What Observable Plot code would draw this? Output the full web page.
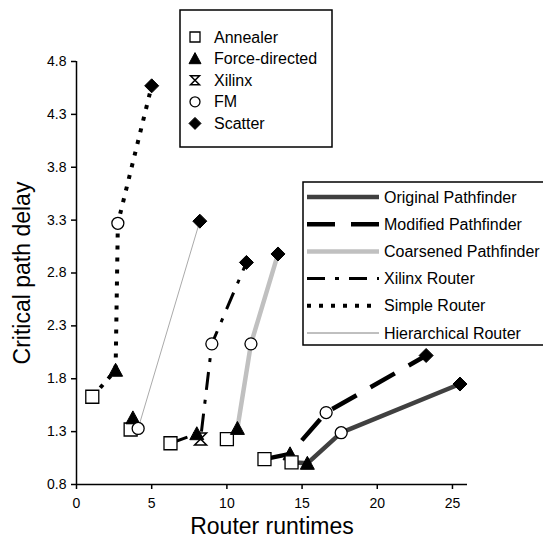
<!DOCTYPE html>
<html><head><meta charset="utf-8">
<script src="https://cdn.jsdelivr.net/npm/d3@7"></script>
<script src="https://cdn.jsdelivr.net/npm/@observablehq/plot@0.6"></script>
<style>
body{margin:0;background:#fff;overflow:hidden}
#chart{width:543px;height:539px;position:relative;overflow:hidden}
</style>
</head><body><div id="chart"></div>
<script>
// ---------- data ----------
const placements = ["Annealer", "Force-directed", "Xilinx", "FM", "Scatter"];
const routers = ["Original Pathfinder", "Modified Pathfinder", "Coarsened Pathfinder", "Xilinx Router", "Simple Router", "Hierarchical Router"];
const xTicks = [0, 5, 10, 15, 20, 25];
const yTicks = [0.8, 1.3, 1.8, 2.3, 2.8, 3.3, 3.8, 4.3, 4.8];

const originalPlacement = ["Annealer", "Force-directed", "FM", "Scatter"];
const originalRuntime = [14.3, 15.35, 17.6, 25.5];
const originalDelay = [1.01, 1.00, 1.29, 1.75];

const modifiedPlacement = ["Annealer", "Force-directed", "FM", "Scatter"];
const modifiedRuntime = [12.5, 14.2, 16.6, 23.25];
const modifiedDelay = [1.04, 1.09, 1.48, 2.02];

const coarsenedPlacement = ["Annealer", "Force-directed", "FM", "Scatter"];
const coarsenedRuntime = [10.0, 10.7, 11.6, 13.4];
const coarsenedDelay = [1.23, 1.33, 2.13, 2.98];

const xilinxPlacement = ["Annealer", "Force-directed", "Xilinx", "FM", "Scatter"];
const xilinxRuntime = [6.25, 8.0, 8.25, 9.0, 11.3];
const xilinxDelay = [1.19, 1.28, 1.23, 2.13, 2.90];

const simplePlacement = ["Annealer", "Force-directed", "FM", "Scatter"];
const simpleRuntime = [1.05, 2.6, 2.75, 5.0];
const simpleDelay = [1.63, 1.88, 3.27, 4.57];

const hierPlacement = ["Annealer", "Force-directed", "FM", "Scatter"];
const hierRuntime = [3.6, 3.75, 4.1, 8.2];
const hierDelay = [1.32, 1.43, 1.33, 3.29];

// ---------- build table ----------
const seriesSrc = [
  [routers[0], originalPlacement, originalRuntime, originalDelay],
  [routers[1], modifiedPlacement, modifiedRuntime, modifiedDelay],
  [routers[2], coarsenedPlacement, coarsenedRuntime, coarsenedDelay],
  [routers[3], xilinxPlacement, xilinxRuntime, xilinxDelay],
  [routers[4], simplePlacement, simpleRuntime, simpleDelay],
  [routers[5], hierPlacement, hierRuntime, hierDelay]
];
const rows = seriesSrc.flatMap(([router, pl, xs, ys]) =>
  pl.map((p, i) => ({router, placement: p, runtime: xs[i], delay: ys[i]})));

// ---------- styles ----------
const routerStyle = {
  "Original Pathfinder": {stroke: "#404040", strokeWidth: 4.5},
  "Modified Pathfinder": {stroke: "#000", strokeWidth: 4.5, strokeDasharray: "28,16"},
  "Coarsened Pathfinder": {stroke: "#c0c0c0", strokeWidth: 4.5},
  "Xilinx Router": {stroke: "#000", strokeWidth: 3, strokeDasharray: "18,10,4,10"},
  "Simple Router": {stroke: "#000", strokeWidth: 4, strokeDasharray: "4,8"},
  "Hierarchical Router": {stroke: "#aaa", strokeWidth: 1}
};
const legendLineColor = {"Hierarchical Router": "#808080"};
const rad = s => Math.sqrt(s / Math.PI);
const symbols = {
  "Annealer": {draw(c, s) { const r = rad(s); c.moveTo(-r, -r); c.lineTo(r, -r); c.lineTo(r, r); c.lineTo(-r, r); c.closePath(); }},
  "Force-directed": {draw(c, s) { const r = rad(s); c.moveTo(0, -r); c.lineTo(r, r * 0.85); c.lineTo(-r, r * 0.85); c.closePath(); }},
  "Xilinx": {draw(c, s) { const r = rad(s); c.moveTo(-r, -r); c.lineTo(r, -r); c.lineTo(-r, r); c.lineTo(r, r); c.closePath(); }},
  "FM": {draw(c, s) { const r = rad(s); c.moveTo(r, 0); c.arc(0, 0, r, 0, 2 * Math.PI); c.closePath(); }},
  "Scatter": {draw(c, s) { const r = rad(s); c.moveTo(0, -r); c.lineTo(r, 0); c.lineTo(0, r); c.lineTo(-r, 0); c.closePath(); }}
};
const markStyle = {
  "Annealer": {r: 6.5, fill: "white", stroke: "black", strokeWidth: 1.3},
  "Force-directed": {r: 7, fill: "black", stroke: "black", strokeWidth: 1},
  "Xilinx": {r: 6, fill: "none", stroke: "black", strokeWidth: 1.5},
  "FM": {r: 6, fill: "white", stroke: "black", strokeWidth: 1.3},
  "Scatter": {r: 7, fill: "black", stroke: "black", strokeWidth: 1}
};
const legendMarkStyle = {
  "Annealer": {r: 5}, "Force-directed": {r: 6}, "Xilinx": {r: 4.5}, "FM": {r: 5}, "Scatter": {r: 6}
};

// ---------- marks ----------
const lineMarks = routers.map(rt => Plot.line(rows.filter(d => d.router === rt), {
  x: "runtime", y: "delay", ...routerStyle[rt], strokeLinecap: "butt", strokeLinejoin: "round"
}));
const dotMarks = [];
for (const rt of ["Hierarchical Router", "Simple Router", "Xilinx Router", "Coarsened Pathfinder", "Modified Pathfinder", "Original Pathfinder"]) {
  for (const p of placements) {
    const data = rows.filter(d => d.router === rt && d.placement === p);
    if (!data.length) continue;
    dotMarks.push(Plot.dot(data, {x: "runtime", y: "delay", symbol: symbols[p], ...markStyle[p]}));
  }
}

const plot = Plot.plot({
  width: 543, height: 539,
  marginLeft: 76, marginRight: 76, marginTop: 61, marginBottom: 55,
  x: {domain: [0, 26]},
  y: {domain: [0.8, 4.8]},
  style: {fontFamily: "'Liberation Sans', Arial, sans-serif", color: "black", background: "white"},
  marks: [
    Plot.axisX({ticks: xTicks, tickFormat: d => String(d), tickSize: 5, tickPadding: 9, fontSize: 14, label: null, strokeWidth: 1.5}),
    Plot.axisY({ticks: yTicks, tickFormat: d => d.toFixed(1), tickSize: 5, tickPadding: 5, fontSize: 14, label: null, strokeWidth: 1.5}),
    Plot.ruleY([0.8], {strokeWidth: 1.5}),
    Plot.ruleX([0], {strokeWidth: 1.5}),
    ...lineMarks,
    ...dotMarks,
    Plot.text(["Router runtimes"], {frameAnchor: "bottom", textAnchor: "middle", lineAnchor: "middle", dy: 42, fontSize: 23, text: d => d}),
    Plot.text(["Critical path delay"], {frameAnchor: "left", textAnchor: "middle", lineAnchor: "middle", dx: -54, rotate: -90, fontSize: 23, text: d => d})
  ]
});
document.getElementById("chart").appendChild(plot);

// ---------- legends ----------
const svg = d3.select(plot);
const font = "'Liberation Sans', Arial, sans-serif";

// placement legend (markers)
const lg1 = svg.append("g");
lg1.append("rect").attr("x", 180).attr("y", 10).attr("width", 152).attr("height", 137)
  .attr("fill", "white").attr("stroke", "black").attr("stroke-width", 1.5);
placements.forEach((p, i) => {
  const y = 37 + i * 21.6;
  const r = legendMarkStyle[p].r;
  const path = d3.path();
  symbols[p].draw(path, r * r * Math.PI);
  const ms = markStyle[p];
  lg1.append("path").attr("d", path.toString()).attr("transform", `translate(195,${y})`)
    .attr("fill", ms.fill).attr("stroke", ms.stroke).attr("stroke-width", ms.strokeWidth);
  lg1.append("text").attr("x", 214).attr("y", y).attr("dy", "0.35em").attr("text-anchor", "start")
    .attr("font-family", font).attr("font-size", 16).attr("fill", "black").text(p);
});

// router legend (lines)
const lg2 = svg.append("g");
lg2.append("rect").attr("x", 303).attr("y", 182).attr("width", 260).attr("height", 163)
  .attr("fill", "white").attr("stroke", "black").attr("stroke-width", 1.5);
routers.forEach((rt, i) => {
  const y = 197 + i * 27.2;
  const st = routerStyle[rt];
  lg2.append("line").attr("x1", 307).attr("x2", 379).attr("y1", y).attr("y2", y)
    .attr("stroke", legendLineColor[rt] || st.stroke).attr("stroke-width", st.strokeWidth)
    .attr("stroke-dasharray", st.strokeDasharray || null);
  lg2.append("text").attr("x", 384).attr("y", y).attr("dy", "0.35em").attr("text-anchor", "start")
    .attr("font-family", font).attr("font-size", 16).attr("fill", "black").text(rt);
});
</script>
</body></html>
